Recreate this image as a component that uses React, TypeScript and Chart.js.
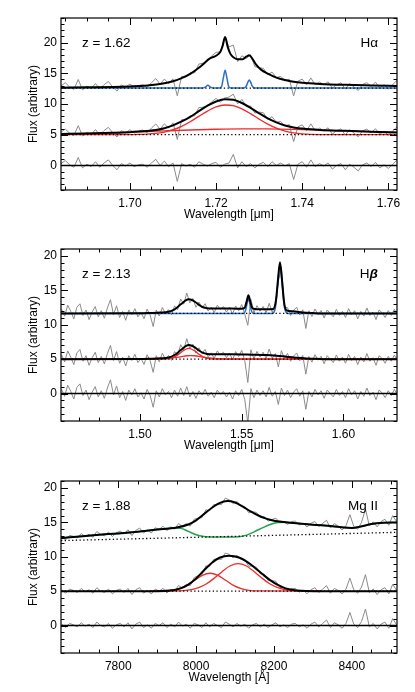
import React, { useEffect, useRef } from 'react';
import { Chart, registerables } from 'chart.js';
Chart.register(...registerables);
Chart.defaults.font.family = '"Liberation Sans", Arial, sans-serif';
Chart.defaults.color = '#000';

// ---------------- H-alpha panel (z = 1.62) ----------------
const HA_X0 = 1.684;
const HA_DX = 0.001;
const haSpecTop = [12.95,13.46,12.77,12.38,13.99,12.30,12.91,12.52,13.33,12.44,
13.15,13.66,12.78,12.10,13.12,12.74,13.26,12.68,13.01,13.15,
12.70,13.46,14.14,13.24,14.06,13.30,14.10,11.33,14.50,14.42,
15.10,15.05,16.50,16.65,17.00,17.85,18.40,18.50,20.90,19.30,
19.60,16.90,17.85,17.40,18.00,16.10,15.90,15.80,14.75,15.20,
14.30,14.50,13.80,14.05,11.32,13.72,14.05,13.10,14.25,13.10,
13.57,13.14,13.61,12.58,13.16,13.44,12.42,13.31,12.80,12.19,
13.18,13.47,12.86,13.55,12.64,13.13,12.46,13.16,13.85];
const haSpecMid = [5.42,5.93,5.25,4.86,6.47,4.79,5.40,5.02,5.84,4.96,
5.68,6.20,5.32,4.64,5.67,5.29,5.82,5.26,5.61,5.76,
5.32,6.08,6.75,5.90,6.76,6.08,6.93,4.23,7.46,7.42,
8.09,8.06,9.43,9.48,9.62,10.37,10.91,10.30,10.98,11.13,
11.60,10.02,10.76,9.57,9.68,8.53,8.69,8.57,7.46,7.93,
7.01,7.16,6.41,6.64,3.88,6.29,6.60,5.63,6.77,5.62,
6.08,5.65,6.13,5.10,5.68,5.95,4.93,5.81,5.29,4.66,
5.64,5.92,5.30,5.98,5.06,5.54,4.92,5.60,6.28];
const haResid = [0.3,0.8,0.1,-0.3,1.3,-0.4,0.2,-0.2,0.6,-0.3,
0.4,0.9,0.0,-0.7,0.3,-0.1,0.4,-0.2,0.1,0.2,
-0.3,0.4,1.0,0.0,0.7,-0.2,0.4,-2.6,0.3,-0.1,
0.2,-0.3,0.6,0.2,-0.1,0.3,0.5,-0.3,0.2,0.4,
1.8,-0.4,0.6,-0.2,0.3,-0.4,0.2,0.5,-0.2,0.6,
0.0,0.4,-0.1,0.3,-2.3,0.2,0.6,-0.3,0.9,-0.2,
0.3,-0.1,0.4,-0.6,0.0,0.3,-0.7,0.2,-0.3,-0.9,
0.1,0.4,-0.2,0.5,-0.4,0.1,-0.5,0.2,0.9];
const haFitTopX = [1.684,1.690,1.696,1.700,1.704,1.707,1.710,1.712,1.714,1.716,1.7175,1.7184,1.719,1.720,1.721,1.7215,1.7221,1.7227,1.7233,1.724,1.725,1.7262,1.727,1.7277,1.7284,1.7293,1.7305,1.732,1.734,1.736,1.738,1.740,1.744,1.750,1.756,1.762];
const haFitTopY = [12.65,12.71,12.78,12.86,13.0,13.24,13.7,14.2,14.9,15.9,16.8,17.35,17.55,17.85,18.5,19.4,20.9,19.3,18.2,17.6,17.3,17.3,17.7,17.95,17.4,16.4,15.55,14.95,14.3,13.9,13.62,13.45,13.27,13.12,13.03,12.95];
const haNarrowX = [1.684,1.7168,1.7175,1.7181,1.7187,1.7194,1.7208,1.7213,1.7217,1.7221,1.7225,1.7229,1.7234,1.7265,1.7270,1.7274,1.7277,1.7280,1.7284,1.7289,1.762];
const haNarrowY = [12.6,12.6,12.75,13.05,12.75,12.6,12.6,12.9,14.3,15.5,14.3,12.9,12.6,12.6,12.9,13.6,13.9,13.6,12.9,12.6,12.6];
const haFitMidX = [1.684,1.690,1.696,1.700,1.702,1.704,1.706,1.708,1.710,1.712,1.714,1.716,1.718,1.720,1.722,1.724,1.726,1.728,1.730,1.732,1.734,1.736,1.738,1.740,1.742,1.744,1.750,1.756,1.762];
const haFitMidY = [5.12,5.2,5.32,5.42,5.51,5.62,5.75,6.06,6.53,7.16,7.89,8.83,9.72,10.41,10.78,10.68,10.16,9.38,8.49,7.66,7.01,6.51,6.18,6.0,5.87,5.78,5.63,5.5,5.38];
const haBroad1X = [1.684,1.698,1.702,1.704,1.706,1.708,1.710,1.712,1.714,1.716,1.718,1.720,1.722,1.724,1.726,1.728,1.730,1.732,1.734,1.736,1.738,1.740,1.742,1.746,1.762];
const haBroad1Y = [5.0,5.0,5.05,5.10,5.21,5.44,5.81,6.37,7.12,7.99,8.84,9.52,9.84,9.73,9.21,8.43,7.54,6.72,6.06,5.60,5.31,5.14,5.06,5.01,5.0];
const haBroad2X = [1.684,1.690,1.696,1.702,1.708,1.714,1.720,1.726,1.732,1.738,1.744,1.750,1.756,1.762];
const haBroad2Y = [5.12,5.2,5.32,5.46,5.62,5.77,5.89,5.95,5.94,5.87,5.76,5.63,5.50,5.38];
const haLevelX = [1.684, 1.762];
const haContTopY = [12.6, 12.6];
const haContMidY = [5.0, 5.0];
const haZeroY = [0, 0];
const haXTicks = [1.70, 1.72, 1.74, 1.76];

// ---------------- H-beta panel (z = 2.13) ----------------
const HB_X0 = 1.4615;
const HB_DX = 0.0015;
const hbSpecTop = [12.25,11.25,12.85,11.95,10.85,12.55,13.05,11.35,12.15,10.75,
11.85,12.65,11.15,12.05,10.95,12.45,13.65,11.45,12.75,11.05,
11.95,10.65,12.15,11.45,12.35,11.15,11.77,10.88,12.29,11.41,
9.73,12.15,11.27,12.50,11.64,12.19,11.47,12.75,12.19,13.75,
12.99,14.62,13.18,13.82,12.54,13.30,12.44,13.07,11.99,12.56,
11.75,12.85,12.25,12.65,11.85,12.54,11.54,12.74,12.03,12.93,
11.53,9.92,13.71,11.69,12.78,11.97,12.66,11.75,13.12,11.79,
13.06,16.32,18.38,12.53,12.49,11.34,12.10,12.55,11.42,12.19,
9.46,12.03,11.21,12.30,11.49,12.08,10.97,12.15,11.65,11.15,
12.25,11.35,11.95,11.05,12.35,11.45,12.05,10.85,11.95,11.25,
12.45,11.35,11.85,10.75,12.15,11.75,11.05,12.05,11.35,12.25,
11.45];
const hbSpecMid = [5.6,4.6,6.2,5.3,4.2,5.9,6.4,4.7,5.5,4.1,
5.2,6.0,4.5,5.4,4.3,5.8,7.0,4.8,6.1,4.4,
5.3,4.0,5.5,4.8,5.7,4.5,5.12,4.23,5.64,4.76,
3.08,5.5,4.62,5.85,4.99,5.54,4.82,6.1,5.54,7.1,
6.34,7.97,6.53,7.17,5.89,6.65,5.79,6.42,5.34,5.91,
5.1,6.2,5.6,6.0,5.2,5.9,4.9,6.1,5.38,6.28,
4.78,1.6,6.36,5.04,6.13,5.32,6.01,5.1,6.47,5.14,
5.81,3.87,6.23,5.08,5.84,4.69,5.45,5.9,4.77,5.54,
2.81,5.38,4.56,5.65,4.84,5.43,4.32,5.5,5.0,4.5,
5.6,4.7,5.3,4.4,5.7,4.8,5.4,4.2,5.3,4.6,
5.8,4.7,5.2,4.1,5.5,5.1,4.4,5.4,4.7,5.6,
4.8];
const hbResid = [0.6,-0.4,1.2,0.3,-0.8,0.9,1.4,-0.3,0.5,-0.9,
0.2,1.0,-0.5,0.4,-0.7,0.8,2.0,-0.2,1.1,-0.6,
0.3,-1.0,0.5,-0.2,0.7,-0.5,0.1,-0.8,0.6,-0.3,
-2.0,0.4,-0.5,0.7,-0.2,0.3,-0.6,0.5,-0.4,0.8,
-0.3,1.0,-0.5,0.3,-0.7,0.4,-0.2,0.6,-0.4,0.2,
-0.6,0.5,-0.1,0.3,-0.5,0.2,-0.8,0.4,-0.3,0.6,
-0.9,-4.3,0.7,-0.6,0.5,-0.3,0.4,-0.5,0.9,-0.4,
0.3,-1.6,0.8,-0.3,0.5,-0.6,0.2,0.7,-0.4,0.4,
-2.3,0.3,-0.5,0.6,-0.2,0.4,-0.7,0.5,0.0,-0.5,
0.6,-0.3,0.3,-0.6,0.7,-0.2,0.4,-0.8,0.3,-0.4,
0.8,-0.3,0.2,-0.9,0.5,0.1,-0.6,0.4,-0.3,0.6,
-0.2];
const hbFitTopX = [1.4612,1.500,1.505,1.510,1.514,1.517,1.519,1.521,1.5225,1.524,1.5255,1.527,1.529,1.531,1.533,1.536,1.545,1.550,1.5515,1.5525,1.5533,1.5541,1.5551,1.5565,1.562,1.5655,1.5668,1.5678,1.5688,1.5698,1.5708,1.572,1.575,1.580,1.585,1.590,1.6263];
const hbFitTopY = [11.65,11.67,11.71,11.77,11.89,12.25,12.7,13.2,13.55,13.7,13.6,13.35,12.9,12.55,12.4,12.35,12.35,12.33,12.5,13.5,14.3,13.5,12.5,12.3,12.25,12.3,13.5,16.5,19.1,16.5,13.3,12.1,11.95,11.78,11.7,11.65,11.65];
const hbBlueX = [1.4612,1.5510,1.5520,1.5527,1.5533,1.5539,1.5546,1.5556,1.5650,1.5665,1.5676,1.5688,1.5700,1.5711,1.5726,1.6263];
const hbBlueY = [11.65,11.65,12.2,13.2,13.8,13.2,12.2,11.65,11.65,12.4,15.5,18.9,15.5,12.4,11.65,11.65];
const hbFitMidX = [1.4612,1.500,1.505,1.510,1.514,1.517,1.519,1.521,1.5225,1.524,1.5255,1.527,1.529,1.531,1.533,1.536,1.545,1.555,1.562,1.567,1.572,1.577,1.582,1.587,1.592,1.6263];
const hbFitMidY = [5.0,5.02,5.06,5.12,5.24,5.6,6.05,6.55,6.9,7.05,6.95,6.7,6.25,5.9,5.75,5.7,5.7,5.65,5.6,5.5,5.35,5.2,5.1,5.04,5.0,5.0];
const hbRed1X = [1.4612,1.512,1.515,1.517,1.519,1.521,1.5225,1.524,1.5255,1.527,1.529,1.531,1.533,1.536,1.6263];
const hbRed1Y = [5.0,5.02,5.12,5.33,5.71,6.17,6.44,6.55,6.44,6.17,5.71,5.33,5.12,5.02,5.0];
const hbRed2X = [1.4612,1.505,1.510,1.514,1.517,1.520,1.523,1.525,1.527,1.530,1.533,1.536,1.540,1.545,1.6263];
const hbRed2Y = [5.0,5.0,5.04,5.12,5.23,5.34,5.49,5.5,5.49,5.34,5.23,5.12,5.04,5.0,5.0];
const hbLevelX = [1.4612, 1.6263];
const hbContTopY = [11.65, 11.65];
const hbContMidY = [5.0, 5.0];
const hbZeroY = [0, 0];
const hbXTicks = [1.50, 1.55, 1.60];

// ---------------- Mg II panel (z = 1.88) ----------------
const MG_X0 = 7655;
const MG_DX = 10;
const mgSpecTop = [12.91,12.46,13.11,12.97,12.72,13.38,12.93,13.28,12.83,13.68,
13.22,13.06,13.60,12.94,13.48,13.73,13.28,13.93,13.08,13.83,
14.18,13.44,13.90,13.46,14.22,13.98,14.44,13.80,14.36,14.02,
14.84,14.39,14.84,14.45,15.45,15.63,15.68,16.83,16.68,17.58,
17.63,17.58,18.53,18.28,17.75,18.05,17.35,17.30,16.38,16.55,
16.45,15.69,15.86,15.18,15.43,15.61,14.93,15.15,14.70,15.13,
15.18,14.63,14.88,14.33,14.88,15.13,14.39,14.85,15.31,14.17,
14.83,14.46,13.89,14.53,16.11,14.42,14.01,15.02,16.95,14.48,
15.09,14.35,15.12,15.46,14.57,15.99,15.10];
const mgSpecMid = [5.2,4.7,5.3,5.1,4.8,5.4,4.9,5.2,4.7,5.5,
5.0,4.8,5.3,4.6,5.1,5.3,4.8,5.4,4.5,5.2,
5.5,4.7,5.1,4.6,5.3,5.0,5.41,4.73,5.27,4.98,
5.83,5.43,6.01,5.8,6.97,7.25,7.4,8.67,8.62,9.6,
9.68,9.61,10.55,10.35,9.85,10.23,9.63,9.62,8.61,8.7,
8.46,7.53,7.48,6.54,6.53,6.43,5.53,5.55,4.98,5.36,
5.4,4.85,5.13,4.62,5.21,5.5,4.8,5.3,5.8,4.7,
5.4,5.1,4.6,5.3,6.9,5.2,4.7,5.6,7.4,4.8,
5.3,4.5,5.2,5.5,4.6,6.0,5.1];
const mgResid = [0.2,-0.3,0.3,0.1,-0.2,0.4,-0.1,0.2,-0.3,0.5,
0.0,-0.2,0.3,-0.4,0.1,0.3,-0.2,0.4,-0.5,0.2,
0.5,-0.3,0.1,-0.4,0.3,0.0,0.4,-0.3,0.2,-0.2,
0.5,-0.1,0.2,-0.4,0.3,0.1,-0.3,0.4,-0.2,0.3,
0.0,-0.3,0.5,0.2,-0.2,0.3,-0.1,0.2,-0.4,0.1,
0.3,-0.2,0.2,-0.3,0.1,0.4,-0.2,0.1,-0.3,0.2,
0.3,-0.2,0.1,-0.4,0.2,0.5,-0.2,0.3,0.8,-0.3,
0.4,0.1,-0.4,0.3,1.9,0.2,-0.3,0.6,2.4,-0.2,
0.3,-0.5,0.2,0.5,-0.4,1.0,0.1];
const mgFitTopX = [7653,7700,7750,7800,7850,7900,7950,7980,8000,8020,8040,8060,8080,8100,8120,8140,8160,8180,8200,8225,8250,8300,8350,8380,8400,8420,8450,8480,8516];
const mgFitTopY = [12.7,12.95,13.2,13.4,13.65,13.95,14.25,14.7,15.3,16.2,17.1,17.8,18.1,17.9,17.3,16.6,16.0,15.55,15.25,15.05,14.9,14.65,14.45,14.25,14.2,14.35,14.75,14.95,15.0];
const mgGreenX = [7653,7700,7750,7800,7850,7900,7940,7960,7980,8000,8020,8050,8080,8110,8130,8150,8170,8190,8210,8230,8250,8300,8350,8380,8400,8420,8450,8480,8516];
const mgGreenY = [12.7,12.95,13.2,13.4,13.65,13.95,14.2,14.15,13.7,13.2,12.95,12.88,12.88,12.92,13.15,13.65,14.2,14.7,15.0,15.02,14.9,14.65,14.45,14.25,14.2,14.35,14.75,14.95,15.0];
const mgContX = [7653, 8516];
const mgContTopY = [12.35, 13.55];
const mgFitMidX = [7653,7900,7940,7960,7980,8000,8020,8040,8060,8085,8110,8130,8150,8170,8190,8210,8230,8250,8270,8300,8516];
const mgFitMidY = [5.0,5.0,5.12,5.4,5.95,6.85,8.0,9.1,9.85,10.15,9.9,9.3,8.45,7.5,6.6,5.9,5.4,5.15,5.04,5.0,5.0];
const mgRedLX = [7880,7916,7936,7956,7976,7996,8016,8036,8056,8076,8096,8116,8136,8156,8320];
const mgRedLY = [5.0,5.03,5.11,5.35,5.84,6.58,7.29,7.6,7.29,6.58,5.84,5.35,5.11,5.03,5.0];
const mgRedRX = [7880,7958,7988,8008,8028,8048,8068,8088,8108,8128,8148,8168,8188,8208,8228,8258,8320];
const mgRedRY = [5.0,5.04,5.22,5.54,6.11,6.95,7.9,8.69,9.0,8.69,7.9,6.95,6.11,5.54,5.22,5.04,5.0];
const mgContMidY = [5.0, 5.0];
const mgZeroY = [0, 0];
const mgXTicks = [7800, 8000, 8200, 8400];

const yTicks = [0, 5, 10, 15, 20];

// ---------------- helpers ----------------
const pts = (xs: number[], ys: number[]) => xs.map((x, i) => ({ x, y: ys[i] }));
const grid = (x0: number, dx: number, ys: number[]) => ys.map((y, i) => ({ x: x0 + i * dx, y }));

const GRAY = '#8a8a8a';
const RED = '#ee2a2a';
const BLUE = '#2a70c4';
const GREEN = '#22a24c';

function ds(data: any[], color: string, width: number, order: number, extra: any = {}) {
  return {
    data, borderColor: color, backgroundColor: color, borderWidth: width,
    pointRadius: 0, fill: false, order, clip: 0, tension: 0, ...extra,
  };
}
const smooth = { cubicInterpolationMode: 'monotone' };
const dotted = { borderDash: [1.3, 2.4] };

type PanelCfg = {
  xMin: number; xMax: number; yMin: number; yMax: number;
  xTicks: number[]; xMinor: number; digits: number; xTitle: string;
  zText: string; lineParts: { t: string; style: string }[];
  datasets: any[];
};

function decoPlugin(cfg: PanelCfg) {
  return {
    id: 'deco',
    afterDraw(chart: any) {
      const { ctx, chartArea: a, scales } = chart;
      const xs = scales.x, ys = scales.y;
      ctx.save();
      ctx.strokeStyle = '#000';
      ctx.lineWidth = 1.2;
      ctx.strokeRect(a.left, a.top, a.right - a.left, a.bottom - a.top);
      ctx.lineWidth = 1;
      ctx.beginPath();
      const xTick = (v: number, len: number) => {
        const p = Math.round(xs.getPixelForValue(v)) + 0.5;
        ctx.moveTo(p, a.bottom); ctx.lineTo(p, a.bottom - len);
        ctx.moveTo(p, a.top); ctx.lineTo(p, a.top + len);
      };
      const yTick = (v: number, len: number) => {
        const p = Math.round(ys.getPixelForValue(v)) + 0.5;
        ctx.moveTo(a.left, p); ctx.lineTo(a.left + len, p);
        ctx.moveTo(a.right, p); ctx.lineTo(a.right - len, p);
      };
      const k0 = Math.ceil(xs.min / cfg.xMinor - 1e-9), k1 = Math.floor(xs.max / cfg.xMinor + 1e-9);
      for (let k = k0; k <= k1; k++) xTick(k * cfg.xMinor, 3.5);
      cfg.xTicks.forEach((v) => xTick(v, 7));
      const j0 = Math.ceil(ys.min), j1 = Math.floor(ys.max);
      for (let j = j0; j <= j1; j++) yTick(j, 3.5);
      yTicks.forEach((v) => yTick(v, 7));
      ctx.stroke();

      ctx.fillStyle = '#000';
      ctx.textBaseline = 'middle';
      ctx.textAlign = 'left';
      const ty = a.top + 25;
      ctx.font = '13.5px "Liberation Sans", Arial, sans-serif';
      ctx.fillText(cfg.zText, a.left + 21, ty);
      // right-hand line label
      const fonts = cfg.lineParts.map((p) => `${p.style} 13.5px "Liberation Sans", Arial, sans-serif`);
      let total = 0;
      const widths = cfg.lineParts.map((p, i) => { ctx.font = fonts[i]; const w = ctx.measureText(p.t).width; total += w; return w; });
      let x = a.right - 19 - total;
      cfg.lineParts.forEach((p, i) => { ctx.font = fonts[i]; ctx.fillText(p.t, x, ty); x += widths[i]; });
      ctx.restore();
    },
  };
}

function Panel({ top, cfg }: { top: number; cfg: PanelCfg }) {
  const ref = useRef<HTMLCanvasElement>(null);
  useEffect(() => {
    const fmt = (v: any) => Number(v).toFixed(cfg.digits);
    const chart = new Chart(ref.current as HTMLCanvasElement, {
      type: 'line',
      data: { datasets: cfg.datasets },
      options: {
        animation: false,
        responsive: false,
        devicePixelRatio: 1,
        events: [],
        layout: { padding: { left: 0, right: 18, top: 18, bottom: 0 } },
        plugins: { legend: { display: false }, tooltip: { enabled: false } },
        scales: {
          x: {
            type: 'linear', min: cfg.xMin, max: cfg.xMax,
            grid: { display: false, drawTicks: false }, border: { display: false },
            afterBuildTicks: (s: any) => { s.ticks = cfg.xTicks.map((v) => ({ value: v })); },
            afterFit: (s: any) => { s.height = 32; },
            ticks: { padding: 6, autoSkip: false, maxRotation: 0, color: '#000', font: { size: 12 }, callback: (v: any) => fmt(v) },
            title: { display: true, text: cfg.xTitle, color: '#000', font: { size: 12 }, padding: { top: 0, bottom: 0 } },
          },
          y: {
            type: 'linear', min: cfg.yMin, max: cfg.yMax,
            grid: { display: false, drawTicks: false }, border: { display: false },
            afterBuildTicks: (s: any) => { s.ticks = yTicks.map((v) => ({ value: v })); },
            afterFit: (s: any) => { s.width = 61; },
            ticks: { padding: 4, color: '#000', font: { size: 12 }, callback: (v: any) => String(v) },
            title: { display: true, text: 'Flux (arbitrary)', color: '#000', font: { size: 12 }, padding: { top: 26, bottom: 0 } },
          },
        },
      } as any,
      plugins: [decoPlugin(cfg)],
    });
    return () => chart.destroy();
  }, []);
  return (
    <div style={{ position: 'absolute', left: 0, top, width: 415, height: 222 }}>
      <canvas ref={ref} width={415} height={222} style={{ display: 'block' }} />
    </div>
  );
}

const haCfg: PanelCfg = {
  xMin: 1.684, xMax: 1.762, yMin: -4, yMax: 24, xTicks: haXTicks, xMinor: 0.005, digits: 2,
  xTitle: 'Wavelength [μm]', zText: 'z = 1.62', lineParts: [{ t: 'Hα', style: 'normal' }],
  datasets: [
    ds(pts(haFitTopX, haFitTopY), '#000', 2, 0, smooth),
    ds(pts(haFitMidX, haFitMidY), '#000', 2, 0, smooth),
    ds(pts(haLevelX, haZeroY), '#000', 1.5, 0),
    ds(pts(haLevelX, haContTopY), '#000', 1.3, 1, dotted),
    ds(pts(haLevelX, haContMidY), '#000', 1.3, 1, dotted),
    ds(pts(haNarrowX, haNarrowY), BLUE, 1.5, 2, smooth),
    ds(pts(haBroad1X, haBroad1Y), RED, 1.3, 2, smooth),
    ds(pts(haBroad2X, haBroad2Y), RED, 1.3, 2, smooth),
    ds(grid(HA_X0, HA_DX, haSpecTop), GRAY, 1, 3),
    ds(grid(HA_X0, HA_DX, haSpecMid), GRAY, 1, 3),
    ds(grid(HA_X0, HA_DX, haResid), GRAY, 1, 3),
  ],
};

const hbCfg: PanelCfg = {
  xMin: 1.4612, xMax: 1.6263, yMin: -4, yMax: 21.02, xTicks: hbXTicks, xMinor: 0.01, digits: 2,
  xTitle: 'Wavelength [μm]', zText: 'z = 2.13', lineParts: [{ t: 'H', style: 'normal' }, { t: 'β', style: 'italic bold' }],
  datasets: [
    ds(pts(hbFitTopX, hbFitTopY), '#000', 2, 0, smooth),
    ds(pts(hbFitMidX, hbFitMidY), '#000', 2, 0, smooth),
    ds(pts(hbLevelX, hbZeroY), '#000', 1.5, 0),
    ds(pts(hbLevelX, hbContTopY), '#000', 1.3, 1, dotted),
    ds(pts(hbLevelX, hbContMidY), '#000', 1.3, 1, dotted),
    ds(pts(hbBlueX, hbBlueY), BLUE, 1.5, 2, smooth),
    ds(pts(hbRed1X, hbRed1Y), RED, 1.3, 2, smooth),
    ds(pts(hbRed2X, hbRed2Y), RED, 1.3, 2, smooth),
    ds(grid(HB_X0, HB_DX, hbSpecTop), GRAY, 1, 3),
    ds(grid(HB_X0, HB_DX, hbSpecMid), GRAY, 1, 3),
    ds(grid(HB_X0, HB_DX, hbResid), GRAY, 1, 3),
  ],
};

const mgCfg: PanelCfg = {
  xMin: 7653, xMax: 8516, yMin: -4, yMax: 21.02, xTicks: mgXTicks, xMinor: 50, digits: 0,
  xTitle: 'Wavelength [Å]', zText: 'z = 1.88', lineParts: [{ t: 'Mg II', style: 'normal' }],
  datasets: [
    ds(pts(mgFitTopX, mgFitTopY), '#000', 2, 0, smooth),
    ds(pts(mgFitMidX, mgFitMidY), '#000', 2, 0, smooth),
    ds(pts(mgContX, mgZeroY), '#000', 1.5, 0),
    ds(pts(mgContX, mgContTopY), '#000', 1.3, 1, dotted),
    ds(pts(mgContX, mgContMidY), '#000', 1.3, 1, dotted),
    ds(pts(mgGreenX, mgGreenY), GREEN, 1.5, 2, smooth),
    ds(pts(mgRedLX, mgRedLY), RED, 1.3, 2, smooth),
    ds(pts(mgRedRX, mgRedRY), RED, 1.3, 2, smooth),
    ds(grid(MG_X0, MG_DX, mgSpecTop), GRAY, 1, 3),
    ds(grid(MG_X0, MG_DX, mgSpecMid), GRAY, 1, 3),
    ds(grid(MG_X0, MG_DX, mgResid), GRAY, 1, 3),
  ],
};

export default function App() {
  return (
    <div style={{ position: 'absolute', left: 0, top: 0, width: 415, height: 692, background: '#fff', overflow: 'hidden' }}>
      <Panel top={0} cfg={haCfg} />
      <Panel top={231} cfg={hbCfg} />
      <Panel top={463} cfg={mgCfg} />
    </div>
  );
}
